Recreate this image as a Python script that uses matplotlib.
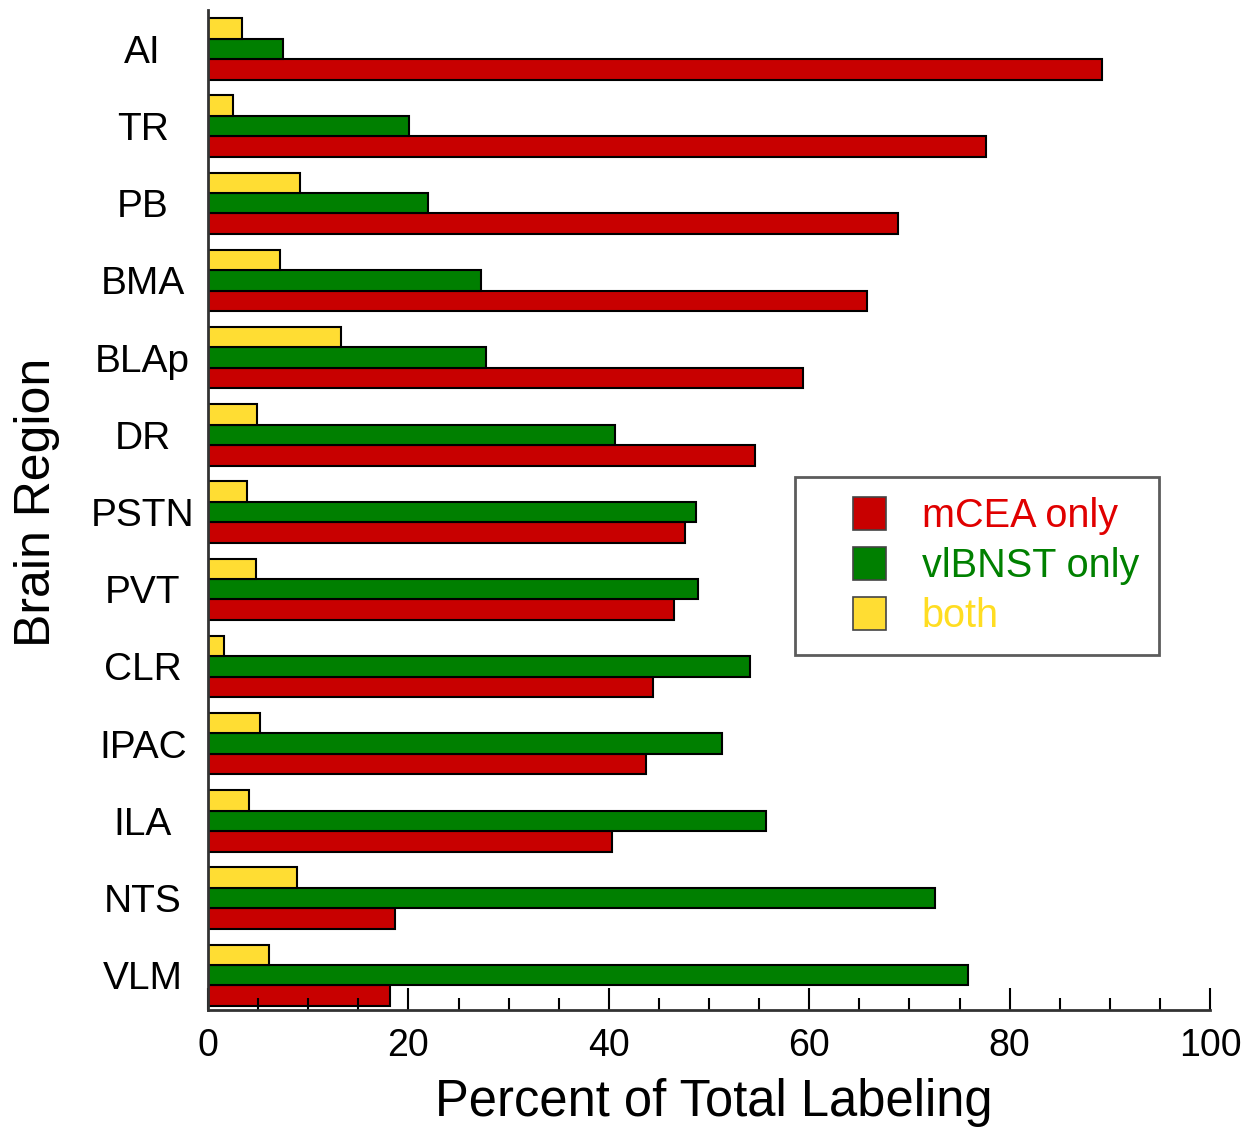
import matplotlib.pyplot as plt
from matplotlib.ticker import MultipleLocator
from matplotlib.legend_handler import HandlerPatch
from matplotlib.patches import Rectangle
import numpy as np

plt.rcParams['font.family'] = ['Liberation Sans', 'DejaVu Sans']

regions = ['AI', 'TR', 'PB', 'BMA', 'BLAp', 'DR', 'PSTN', 'PVT', 'CLR', 'IPAC', 'ILA', 'NTS', 'VLM']
mcea_only = [89.2, 77.6, 68.9, 65.8, 59.4, 54.6, 47.6, 46.5, 44.4, 43.7, 40.3, 18.7, 18.2]
vlbnst_only = [7.5, 20.1, 22.0, 27.2, 27.7, 40.6, 48.7, 48.9, 54.1, 51.3, 55.7, 72.6, 75.8]
both = [3.4, 2.5, 9.2, 7.2, 13.3, 4.9, 3.9, 4.8, 1.6, 5.2, 4.1, 8.9, 6.1]
series_names = ['mCEA only', 'vlBNST only', 'both']

red = '#c80000'
green = '#007f00'
yellow = '#ffdd33'

fig = plt.figure(figsize=(12.56, 11.37), dpi=100)
ax = fig.add_axes([0.1656, 0.1117, 0.7978, 0.8793])

y = np.arange(len(regions))
h = 0.265
ax.barh(y + h, mcea_only, height=h, color=red, edgecolor='black', linewidth=1.5)
ax.barh(y, vlbnst_only, height=h, color=green, edgecolor='black', linewidth=1.5)
ax.barh(y - h, both, height=h, color=yellow, edgecolor='black', linewidth=1.5)

ax.set_xlim(0, 100)
ax.set_ylim(12.45, -0.5)
ax.set_yticks(y)
ax.set_yticklabels(regions, fontsize=28, ha='center')
ax.tick_params(axis='y', length=0, pad=47)
ax.xaxis.set_major_locator(MultipleLocator(20))
ax.xaxis.set_minor_locator(MultipleLocator(5))
ax.tick_params(axis='x', which='major', direction='in', length=16, width=1.5, labelsize=27, pad=13)
ax.tick_params(axis='x', which='minor', direction='in', length=9, width=1.5)
for s in ['top', 'right']:
    ax.spines[s].set_visible(False)
for s in ['left', 'bottom']:
    ax.spines[s].set_linewidth(2)
    ax.spines[s].set_color('#333333')

ax.set_xlabel('Percent of Total Labeling', fontsize=36.5)
ax.xaxis.set_label_coords(0.5045, -0.068)
ax.set_ylabel('Brain Region', fontsize=36)
ax.yaxis.set_label_coords(-0.148, 0.508)


# legend squares sit at the right end of a wider handle box
def square(legend, orig_handle, xdescent, ydescent, width, height, fontsize):
    return Rectangle((-xdescent + width - height, -ydescent), height, height)


handles = [Rectangle((0, 0), 1, 1, facecolor=c, edgecolor='#444444', linewidth=1.2)
           for c in [red, green, yellow]]
leg = ax.legend(handles, series_names, loc='upper left', bbox_to_anchor=(0.586, 0.533),
                fontsize=28.5, frameon=True, fancybox=False, edgecolor='#333333',
                handlelength=1.8, handleheight=0.9, handletextpad=0.9,
                labelspacing=0.3, borderpad=0.5, borderaxespad=0,
                handler_map={Rectangle: HandlerPatch(patch_func=square)})
leg.get_frame().set_linewidth(2)
for t, c in zip(leg.get_texts(), ['#e00000', '#008000', '#ffdd22']):
    t.set_color(c)

fig.savefig('out.png', dpi=100)
